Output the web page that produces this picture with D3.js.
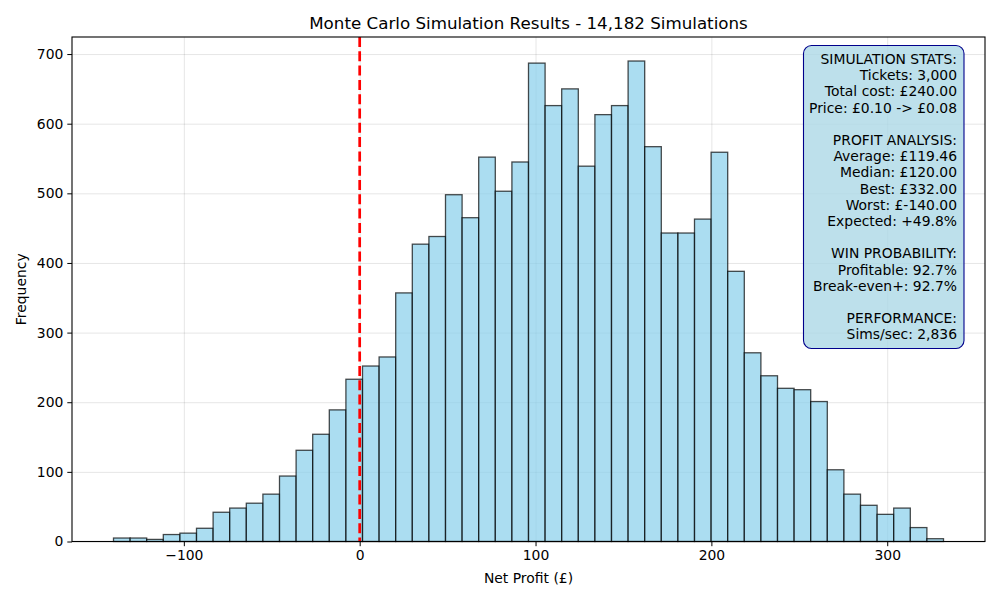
<!DOCTYPE html>
<html>
<head>
<meta charset="utf-8">
<script src="https://cdn.jsdelivr.net/npm/d3@7"></script>
<style>
  body { margin: 0; background: #fff; }
  text { font-family: "DejaVu Sans", sans-serif; fill: #000; }
  .grid line { stroke: #000; stroke-opacity: 0.1; }
  .grid path { display: none; }
  .axis path, .axis line { stroke: #000; }
</style>
</head>
<body>
<div id="chart"></div>
<script>
// Histogram bins (50 bins from -140 to 332)
var binStart = -140, binEnd = 332, binCount = 50;
var counts = [5, 5, 3, 10, 12, 19, 42, 48, 55, 68,
              94, 131, 154, 189, 233, 252, 265, 357, 427, 438,
              498, 465, 552, 503, 545, 687, 626, 650, 539, 613,
              626, 690, 567, 443, 443, 463, 559, 388, 271, 238,
              220, 218, 201, 103, 68, 52, 39, 48, 20, 4];
var xTicks = [-100, 0, 100, 200, 300];
var yTicks = [0, 100, 200, 300, 400, 500, 600, 700];
var statsLines = [
  "SIMULATION STATS:", "Tickets: 3,000", "Total cost: £240.00", "Price: £0.10 -> £0.08", "",
  "PROFIT ANALYSIS:", "Average: £119.46", "Median: £120.00", "Best: £332.00", "Worst: £-140.00", "Expected: +49.8%", "",
  "WIN PROBABILITY:", "Profitable: 92.7%", "Break-even+: 92.7%", "",
  "PERFORMANCE:", "Sims/sec: 2,836"
];

var W = 1000, H = 600;
var plotL = 72, plotR = 985, plotT = 37, plotB = 541.5;
var fs = '13.9px';

var binW = (binEnd - binStart) / binCount;
var bins = counts.map(function(c, i) {
  return { x0: binStart + i * binW, x1: binStart + (i + 1) * binW, n: c };
});

var svg = d3.select('#chart').append('svg')
  .attr('width', W).attr('height', H);

var pad = (binEnd - binStart) * 0.05;
var x = d3.scaleLinear().domain([binStart - pad, binEnd + pad]).range([plotL, plotR]);
var yMax = d3.max(counts) * 1.05;
var y = d3.scaleLinear().domain([0, yMax]).range([plotB, plotT]);

// grid
svg.append('g').attr('class', 'grid')
  .attr('transform', 'translate(0,' + plotB + ')')
  .call(d3.axisBottom(x).tickValues(xTicks).tickSize(-(plotB - plotT)).tickFormat(''));
svg.append('g').attr('class', 'grid')
  .attr('transform', 'translate(' + plotL + ',0)')
  .call(d3.axisLeft(y).tickValues(yTicks).tickSize(-(plotR - plotL)).tickFormat(''));

// bars
svg.append('g').selectAll('rect')
  .data(bins).enter().append('rect')
  .attr('x', function(d) { return x(d.x0); })
  .attr('width', function(d) { return x(d.x1) - x(d.x0); })
  .attr('y', function(d) { return y(d.n); })
  .attr('height', function(d) { return y(0) - y(d.n); })
  .attr('fill', 'skyblue').attr('fill-opacity', 0.7)
  .attr('stroke', '#000').attr('stroke-opacity', 0.7).attr('stroke-width', 1.3);

// break-even line
svg.append('line')
  .attr('x1', x(0)).attr('x2', x(0)).attr('y1', plotT).attr('y2', plotB)
  .attr('stroke', 'red').attr('stroke-width', 2.7).attr('stroke-dasharray', '10,4.3');

// axes frame
svg.append('rect')
  .attr('x', plotL).attr('y', plotT).attr('width', plotR - plotL).attr('height', plotB - plotT)
  .attr('fill', 'none').attr('stroke', '#000').attr('stroke-width', 1.1);

var xAxis = svg.append('g').attr('class', 'axis')
  .attr('transform', 'translate(0,' + plotB + ')')
  .call(d3.axisBottom(x).tickValues(xTicks).tickSize(4.7).tickPadding(4).tickFormat(function(d) { return d < 0 ? '\u2212' + (-d) : d; }));
var yAxis = svg.append('g').attr('class', 'axis')
  .attr('transform', 'translate(' + plotL + ',0)')
  .call(d3.axisLeft(y).tickValues(yTicks).tickSize(4.7).tickPadding(4));
[xAxis, yAxis].forEach(function(a) {
  a.select('.domain').remove();
  a.selectAll('text').style('font-family', '"DejaVu Sans", sans-serif').style('font-size', fs).attr('fill', '#000');
});

// titles
svg.append('text').attr('x', (plotL + plotR) / 2).attr('y', 29)
  .attr('text-anchor', 'middle').style('font-size', '16.7px')
  .text('Monte Carlo Simulation Results - 14,182 Simulations');
svg.append('text').attr('x', (plotL + plotR) / 2).attr('y', 583)
  .attr('text-anchor', 'middle').style('font-size', fs)
  .text('Net Profit (£)');
svg.append('text').attr('transform', 'translate(26,' + ((plotT + plotB) / 2) + ') rotate(-90)')
  .attr('text-anchor', 'middle').style('font-size', fs)
  .text('Frequency');

// stats box
var boxX = 803.5, boxY = 45.5, boxW = 160.5, boxH = 303;
svg.append('rect')
  .attr('x', boxX).attr('y', boxY).attr('width', boxW).attr('height', boxH)
  .attr('rx', 8).attr('ry', 8)
  .attr('fill', 'lightblue').attr('fill-opacity', 0.8)
  .attr('stroke', 'darkblue').attr('stroke-width', 1.1);
svg.append('g').selectAll('text')
  .data(statsLines).enter().append('text')
  .attr('x', 957)
  .attr('y', function(d, i) { return 64 + i * 16.2; })
  .attr('text-anchor', 'end').style('font-size', fs)
  .text(function(d) { return d; });
</script>
</body>
</html>
